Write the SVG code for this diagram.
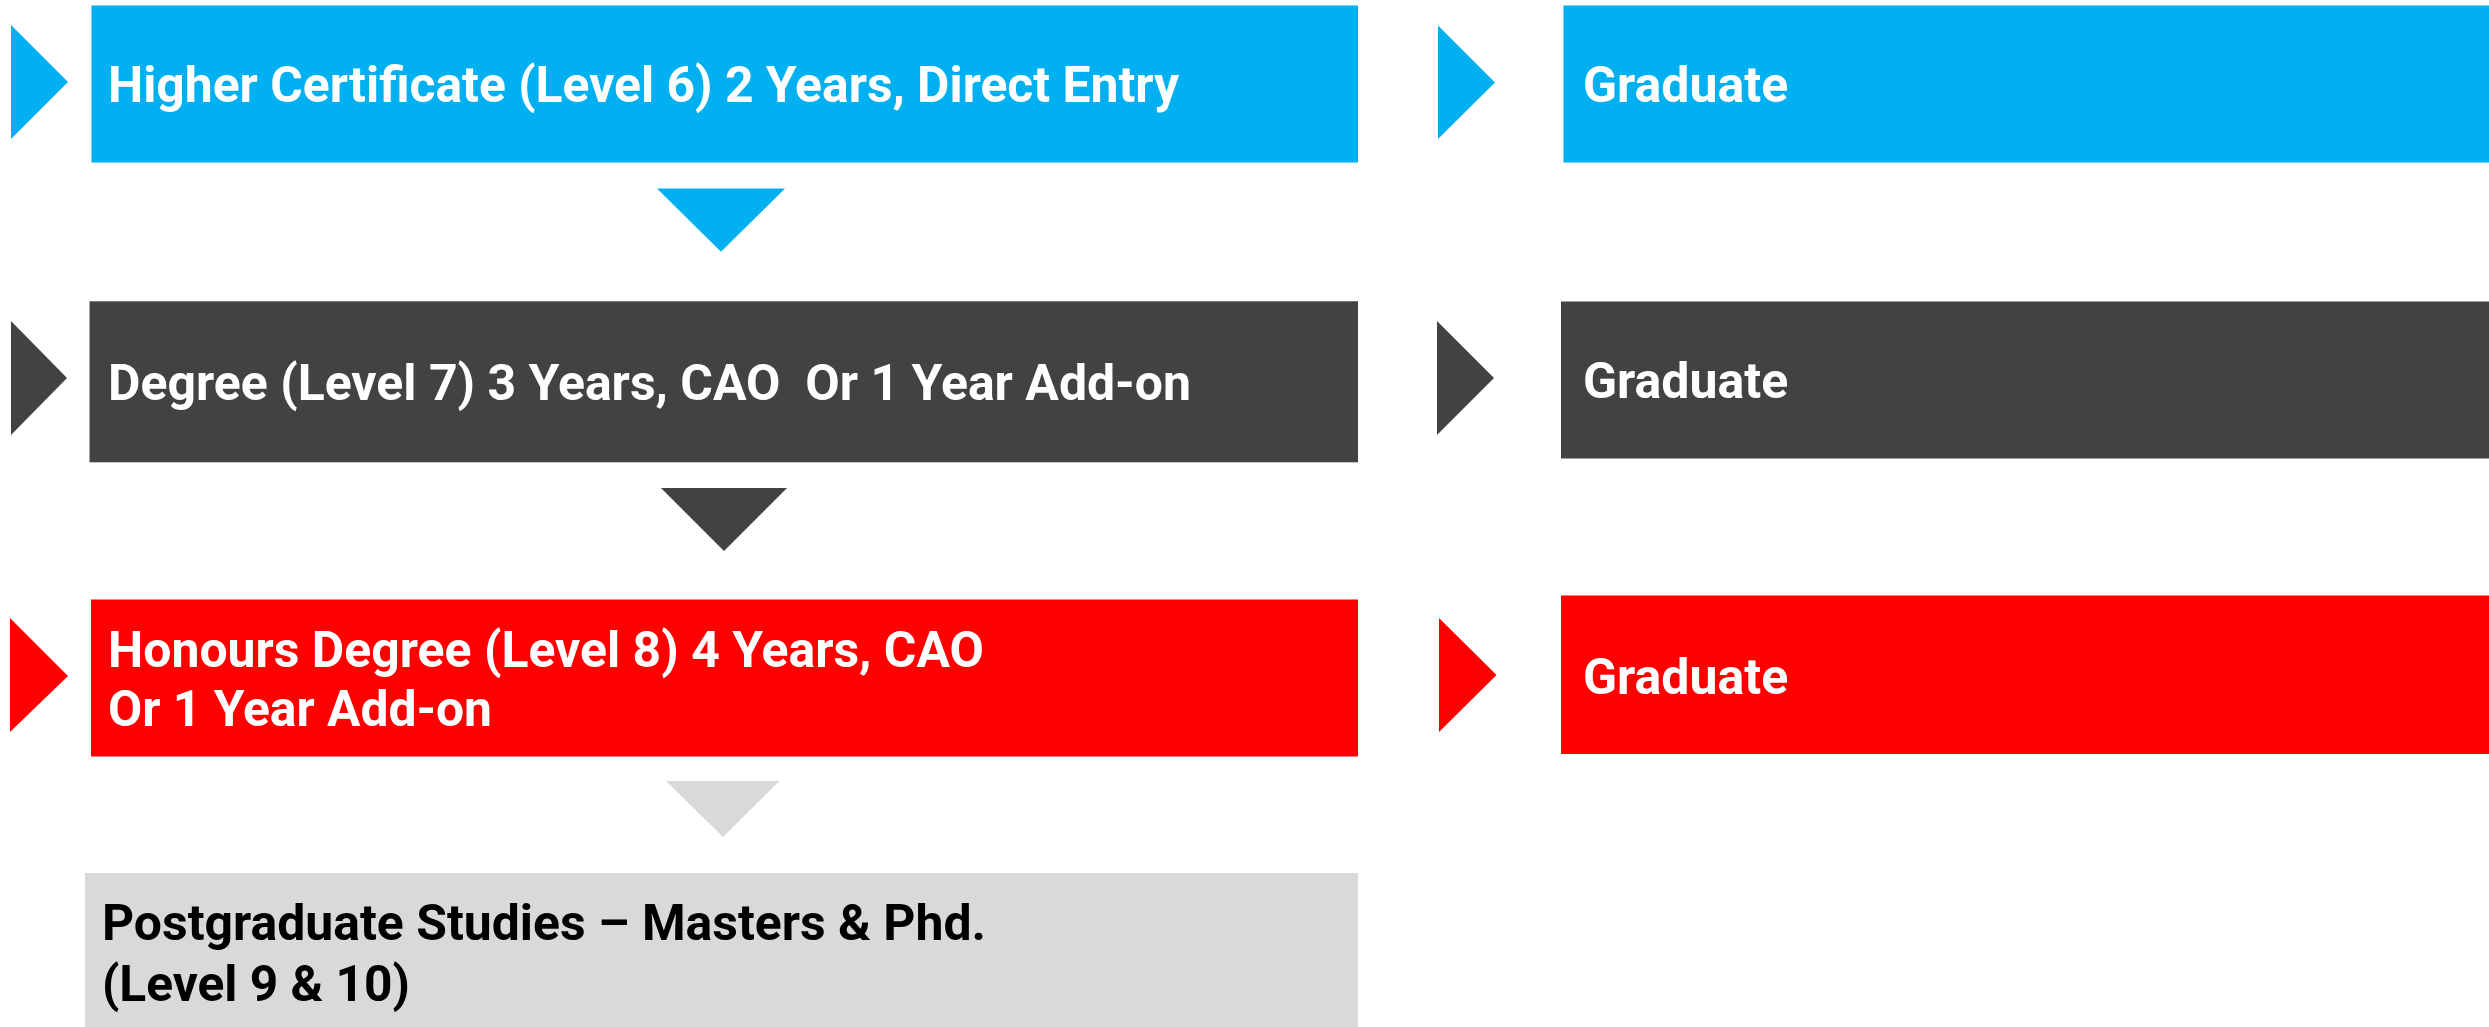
<svg xmlns="http://www.w3.org/2000/svg" width="2489" height="1027" viewBox="0 0 2489 1027">
  <style>
    .lbl { font-family: Roboto, "Liberation Sans", Arial, sans-serif; font-weight: 700; font-size: 50px; white-space: pre; }
    .w { fill: #FFFFFF; }
    .k { fill: #000000; }
    .blue { fill: #00B0F0; }
    .dark { fill: #424242; }
    .red { fill: #FF0000; }
    .grey { fill: #D9D9D9; }
  </style>
  <rect width="2489" height="1027" fill="#FFFFFF"/>

  <!-- pointers and flow arrows -->
  <g id="connectors">
    <polygon class="blue" points="11,25 11,139 68,82"/>
    <polygon class="dark" points="11,321 11,435 67,378"/>
    <polygon class="red" points="10,618 10,732 68,676"/>
    <polygon class="blue" points="1438,25.5 1438,139 1495,82.5"/>
    <polygon class="dark" points="1437,321 1437,435 1494,378"/>
    <polygon class="red" points="1439,618 1439,732 1496.5,675"/>
    <polygon class="blue" points="657,188.5 785,188.5 721,251.7"/>
    <polygon class="dark" points="661,488 787,488 724,551"/>
    <polygon class="grey" points="666,781 779.5,781 723,837"/>
  </g>

  <g id="higher-certificate">
    <rect class="blue" x="91.5" y="5.5" width="1266.5" height="157"/>
    <text class="lbl w" x="108" y="101.7" textLength="1071" lengthAdjust="spacingAndGlyphs">Higher Certificate (Level 6) 2 Years, Direct Entry</text>
  </g>

  <g id="degree">
    <rect class="dark" x="89.5" y="301.3" width="1268.5" height="161"/>
    <text class="lbl w" x="108" y="400" textLength="1083" lengthAdjust="spacingAndGlyphs">Degree (Level 7) 3 Years, CAO  Or 1 Year Add-on</text>
  </g>

  <g id="honours-degree">
    <rect class="red" x="91" y="599.5" width="1267" height="157"/>
    <text class="lbl w" x="108" y="666.7" textLength="876" lengthAdjust="spacingAndGlyphs">Honours Degree (Level 8) 4 Years, CAO</text>
    <text class="lbl w" x="108" y="725.7" textLength="384" lengthAdjust="spacingAndGlyphs">Or 1 Year Add-on</text>
  </g>

  <g id="postgraduate">
    <rect class="grey" x="85" y="873" width="1273" height="154"/>
    <text class="lbl k" x="102" y="940" textLength="884" lengthAdjust="spacingAndGlyphs">Postgraduate Studies – Masters &amp; Phd.</text>
    <text class="lbl k" x="102" y="1000.7" textLength="308" lengthAdjust="spacingAndGlyphs">(Level 9 &amp; 10)</text>
  </g>

  <g id="graduate-1">
    <rect class="blue" x="1563.5" y="5.5" width="925.5" height="157"/>
    <text class="lbl w" x="1583" y="102">Graduate</text>
  </g>

  <g id="graduate-2">
    <rect class="dark" x="1561" y="301.5" width="928" height="157"/>
    <text class="lbl w" x="1583" y="398">Graduate</text>
  </g>

  <g id="graduate-3">
    <rect class="red" x="1561" y="595.5" width="928" height="158.5"/>
    <text class="lbl w" x="1583" y="694">Graduate</text>
  </g>
</svg>
